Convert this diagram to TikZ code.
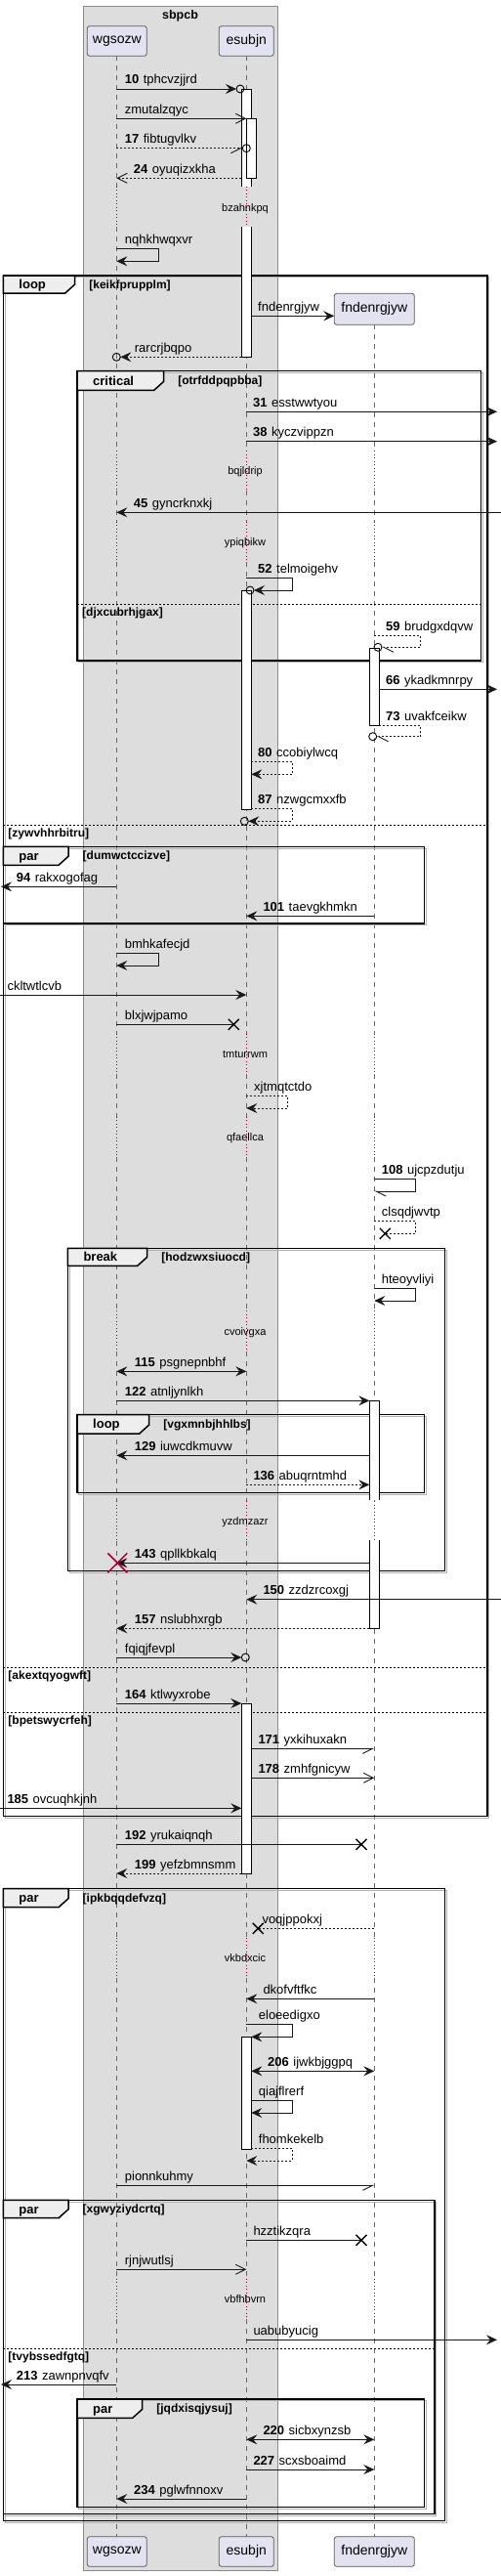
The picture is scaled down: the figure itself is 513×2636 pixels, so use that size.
\documentclass[tikz,border=0pt]{standalone}
\usepackage{fontspec}
\setmainfont{Liberation Sans}
\usetikzlibrary{arrows.meta}
\definecolor{grpfill}{RGB}{221,221,221}
\definecolor{partfill}{RGB}{226,226,240}
\definecolor{tabfill}{RGB}{238,238,238}
\definecolor{delayred}{RGB}{168,0,54}
\newcounter{lc}
\tikzset{
 tipfill/.tip={Stealth[length=11pt,width=10pt,inset=4pt]},
 tipopen/.tip={Straight Barb[length=10pt,width=10pt]},
 tiphr/.tip={Straight Barb[length=10pt,width=10pt,right]},
 tiphl/.tip={Straight Barb[length=10pt,width=10pt,left]},
 msg/.style={line width=0.9pt, draw=black!90},
 dmsg/.style={msg, dash pattern=on 2pt off 2pt},
 life/.style={draw=black!60, line width=0.7pt, dash pattern=on 5pt off 5pt},
 delayline/.style={draw=delayred, line width=0.8pt, dash pattern=on 1pt off 2.5pt},
 act/.style={draw=black, fill=white, line width=0.8pt},
 part/.style={draw=black!65, fill=partfill, rounded corners=2.5pt, line width=0.8pt, font=\fontsize{14}{16}\selectfont, inner sep=0pt},
 msgtxt/.style={font=\fontsize{13}{15}\selectfont, inner sep=0pt, anchor=base west},
 delaytxt/.style={font=\fontsize{11}{13}\selectfont, inner sep=0pt, anchor=base},
 tabtxt/.style={font=\fontsize{13}{15}\selectfont\bfseries, inner sep=0pt, anchor=base west},
 condtxt/.style={font=\fontsize{12}{14}\selectfont\bfseries, inner sep=0pt, anchor=base west},
 frameline/.style={draw=black, line width=1.5pt},
 frameshadow/.style={draw=black!30, line width=1pt},
 divline/.style={draw=black, line width=0.9pt, dash pattern=on 2pt off 2pt},
}
\newcommand\ml[3]{\stepcounter{lc}\node[msgtxt] (lab\arabic{lc}) at (#1,{#2-5}) {#3};}
\newcommand\sn[1]{\textbf{#1}\hspace{4.5pt}}
\newcommand\ecirc[2]{\draw[line width=0.9pt] (#1,#2) circle (4);}
\newcommand\xmk[2]{\draw[line width=1.4pt] ({#1-5.5},{#2-5.5}) -- ({#1+5.5},{#2+5.5}) ({#1-5.5},{#2+5.5}) -- ({#1+5.5},{#2-5.5});}
\newcommand\dly[2]{\stepcounter{lc}\node[delaytxt] (dl\arabic{lc}) at (251,{#1+4}) {#2};}
\newcommand\frm[8]{%
 \draw[frameshadow] ({#1+1.8},{#2+1.8}) rectangle ({#3+1.8},{#4+1.8});
 \draw[frameline] (#1,#2) rectangle (#3,#4);
 \filldraw[fill=tabfill, frameline] (#1,#2) -- (#5,#2) -- (#5,{#6-9}) -- ({#5-10},#6) -- (#1,#6) -- cycle;
 \stepcounter{lc}\node[tabtxt] (tab\arabic{lc}) at ({#1+16},{(#2+#6)/2+4.5}) {#7};
 \node[condtxt] (cond\arabic{lc}) at ({#5+14.5},{(#2+#6)/2+4}) {[#8]};}
\newcommand\divd[4]{%
 \draw[divline] (#1,#3) -- (#2,#3);
 \stepcounter{lc}\node[condtxt] (div\arabic{lc}) at ({#1+5},{#3+12.3}) {[#4]};}
\begin{document}
\begin{tikzpicture}[x=1pt,y=-1pt]
\useasboundingbox (0,0) rectangle (513,2636);
\fill[white] (0,0) rectangle (513,2636);
% group box
\draw[fill=grpfill, draw=black!45, line width=0.9pt] (85.7,6) rectangle (284.3,2630.7);
\node[font=\fontsize{12.5}{14}\selectfont\bfseries, anchor=base, inner sep=0pt] (grpt) at (184.5,19.5) {sbpcb};
% lifelines
\foreach \x in {119.3,252.3}{
 \foreach \a/\b in {57.3/190.7, 232/461, 502.4/533.6, 575/1057.6, 1099/1142.6, 1184/1341.3, 1382.7/1536, 1577.4/1982.6, 2024/2331.6, 2373/2595.7} \draw[life] (\x,\a) -- (\x,\b);
 \foreach \a/\b in {190.7/232, 461/502.4, 533.6/575, 1057.6/1099, 1142.6/1184, 1341.3/1382.7, 1536/1577.4, 1982.6/2024, 2331.6/2373} \draw[delayline] (\x,\a) -- (\x,\b);
}
\foreach \a/\b in {332.3/461, 502.4/533.6, 575/1057.6, 1099/1142.6, 1184/1341.3, 1382.7/1536, 1577.4/1982.6, 2024/2331.6, 2373/2595.7} \draw[life] (383.3,\a) -- (383.3,\b);
\foreach \a/\b in {461/502.4, 533.6/575, 1057.6/1099, 1142.6/1184, 1341.3/1382.7, 1536/1577.4, 1982.6/2024, 2331.6/2373} \draw[delayline] (383.3,\a) -- (383.3,\b);
% frames
\frm{3.3}{282}{499}{1858.7}{76.7}{300}{loop}{keikfprupplm}
\frm{79}{379.7}{492.7}{676}{167.7}{399.3}{critical}{otrfddpqpbba}
\divd{79}{492.7}{618.3}{djxcubrhjgax}
\divd{3.3}{499}{844}{zywvhhrbitru}
\frm{3.3}{866.3}{434.7}{945}{70}{885.3}{par}{dumwctccizve}
\frm{69.3}{1277.3}{455.3}{1607.3}{150.7}{1295.3}{break}{hodzwxsiuocd}
\frm{79}{1447.7}{434.7}{1527.3}{152.7}{1467}{loop}{vgxmnbjhhlbs}
\divd{3.3}{499}{1706}{akextqyogwft}
\divd{3.3}{499}{1752.3}{bpetswycrfeh}
\frm{3.3}{1932.7}{455.3}{2579.3}{70}{1951.7}{par}{ipkbqqdefvzq}
\frm{3.3}{2251.3}{445}{2572.7}{70}{2269.7}{par}{xgwyziydcrtq}
\divd{3.3}{445}{2403}{tvybssedfgtq}
\frm{79}{2455}{434.7}{2565.3}{145.7}{2474.3}{par}{jqdxisqjysuj}
% activations
\fill[white] (247.3,91) rectangle (257.3,190.7);
\draw[line width=0.8pt] (247.3,190.7) -- (247.3,91) -- (257.3,91) -- (257.3,190.7);
\fill[white] (247.3,232) rectangle (257.3,365.3);
\draw[line width=0.8pt] (247.3,232) -- (247.3,365.3) -- (257.3,365.3) -- (257.3,232);
\draw[act] (252.3,121.3) rectangle (262.3,182.3);
\draw[act] (247.3,604) rectangle (257.3,828.3);
\draw[act] (378.3,663.3) rectangle (388.3,742);
\fill[white] (378.3,1433.3) rectangle (388.3,1534.7);
\draw[line width=0.8pt] (378.3,1534.7) -- (378.3,1433.3) -- (388.3,1433.3) -- (388.3,1534.7);
\fill[white] (378.3,1576) rectangle (388.3,1666.3);
\draw[line width=0.8pt] (378.3,1576) -- (378.3,1666.3) -- (388.3,1666.3) -- (388.3,1576);
\draw[act] (247.3,1743) rectangle (257.3,1917);
\draw[act] (247.3,2084.3) rectangle (257.3,2199.3);
% messages
\draw[msg,-{tipfill}] (119.3,91) -- (242,91); \ecirc{246}{91}
\ml{127.7}{91}{\sn{10}tphcvzjjrd}
\draw[msg,-{tipopen}] (119.3,121.3) -- (252.3,121.3);
\ml{127.7}{121.3}{zmutalzqyc}
\draw[dmsg,-{tiphr}] (119.3,151.7) -- (248.3,151.7); \ecirc{252.3}{151.7}
\ml{127.7}{151.7}{\sn{17}fibtugvlkv}
\draw[dmsg,-{tipopen}] (247.3,182.3) -- (119.3,182.3);
\ml{136.7}{182.3}{\sn{24}oyuqizxkha}
\dly{212}{bzahnkpq}
\draw[msg,-{tipfill}] (119.3,254.3) -- (162.3,254.3) -- (162.3,267.3) -- (119.3,267.3);
\ml{127.7}{254.3}{nqhkhwqxvr}
\draw[msg,-{tipfill}] (257.3,323.3) -- (342.3,323.3);
\ml{264}{323.3}{fndenrgjyw}
\draw[dmsg,-{tipfill}] (247.3,365.3) -- (123.3,365.3); \ecirc{119.3}{365.3}
\ml{137.7}{365.3}{rarcrjbqpo}
\draw[msg,-{tipfill}] (252.3,421.3) -- (509,421.3);
\ml{259}{421.3}{\sn{31}esstwwtyou}
\draw[msg,-{tipfill}] (252.3,451.7) -- (509,451.7);
\ml{259}{451.7}{\sn{38}kyczvippzn}
\dly{481.7}{bqjldrip}
\draw[msg,-{tipfill}] (513,524.3) -- (119.3,524.3);
\ml{136.7}{524.3}{\sn{45}gyncrknxkj}
\dly{554.3}{ypiqbikw}
\draw[msg,-{tipfill}] (252.3,591.7) -- (299.3,591.7) -- (299.3,604) -- (260,604); \ecirc{256}{604}
\ml{264}{591.7}{\sn{52}telmoigehv}
\draw[dmsg,-{tiphl}] (383.3,650.3) -- (430.7,650.3) -- (430.7,662.3) -- (391,662.3); \ecirc{387}{662.3}
\ml{395}{650.3}{\sn{59}brudgxdqvw}
\draw[msg,-{tipfill}] (388.3,705.3) -- (509,705.3);
\ml{395}{705.3}{\sn{66}ykadkmnrpy}
\draw[dmsg,-{tiphl}] (388.3,742) -- (430.7,742) -- (430.7,753.7) -- (385.7,753.7); \ecirc{381.7}{753.7}
\ml{395}{742}{\sn{73}uvakfceikw}
\draw[dmsg,-{tipfill}] (257.3,779) -- (299.3,779) -- (299.3,792.3) -- (257.3,792.3);
\ml{264}{779}{\sn{80}ccobiylwcq}
\draw[dmsg,-{tipfill}] (257.3,827.3) -- (299.3,827.3) -- (299.3,840.3) -- (254.3,840.3); \ecirc{250.3}{840.3}
\ml{264}{827.3}{\sn{87}nzwgcmxxfb}
\draw[msg,-{tipfill}] (119.3,907.3) -- (1,907.3);
\ml{16.7}{907.3}{\sn{94}rakxogofag}
\draw[msg,-{tipfill}] (383.3,937.3) -- (252.3,937.3);
\ml{269.3}{937.3}{\sn{101}taevgkhmkn}
\draw[msg,-{tipfill}] (119.3,975.7) -- (162.3,975.7) -- (162.3,988) -- (119.3,988);
\ml{127.7}{975.7}{bmhkafecjd}
\draw[msg,-{tipfill}] (0,1018) -- (252.3,1018);
\ml{7.3}{1018}{ckltwtlcvb}
\draw[msg] (119.3,1048.3) -- (239.3,1048.3); \xmk{239.3}{1048.3}
\ml{127.7}{1048.3}{blxjwjpamo}
\dly{1078.3}{tmturrwm}
\draw[dmsg,-{tipfill}] (252.3,1121.3) -- (294.7,1121.3) -- (294.7,1134) -- (252.3,1134);
\ml{260}{1121.3}{xjtmqtctdo}
\dly{1163.3}{qfaellca}
\draw[msg,-{tiphl}] (383.3,1206.7) -- (425.7,1206.7) -- (425.7,1219) -- (383.3,1219);
\ml{390.7}{1206.7}{\sn{108}ujcpzdutju}
\draw[dmsg] (383.3,1249.7) -- (425.7,1249.7) -- (425.7,1262.3) -- (394.3,1262.3); \xmk{394.3}{1262.3}
\ml{390.7}{1249.7}{clsqdjwvtp}
\draw[msg,-{tipfill}] (383.3,1318.7) -- (425.7,1318.7) -- (425.7,1331) -- (383.3,1331);
\ml{390.7}{1318.7}{hteoyvliyi}
\dly{1362}{cvoivgxa}
\draw[msg,{tipfill}-{tipfill}] (119.3,1403.3) -- (252.3,1403.3);
\ml{137.7}{1403.3}{\sn{115}psgnepnbhf}
\draw[msg,-{tipfill}] (119.3,1433.3) -- (378.3,1433.3);
\ml{127.7}{1433.3}{\sn{122}atnljynlkh}
\draw[msg,-{tipfill}] (378.3,1489.3) -- (119.3,1489.3);
\ml{137.7}{1489.3}{\sn{129}iuwcdkmuvw}
\draw[dmsg,-{tipfill}] (252.3,1519.3) -- (378.3,1519.3);
\ml{259.3}{1519.3}{\sn{136}abuqrntmhd}
\dly{1556.7}{yzdmzazr}
\draw[msg,-{tipfill}] (378.3,1599.3) -- (119.3,1599.3);
\draw[delayred, line width=1.5pt] (110.3,1589.3) -- (130.3,1609.3) (110.3,1609.3) -- (130.3,1589.3);
\ml{137.7}{1599.3}{\sn{143}qpllkbkalq}
\draw[msg,-{tipfill}] (513,1636.7) -- (252.3,1636.7);
\ml{269.3}{1636.7}{\sn{150}zzdzrcoxgj}
\draw[dmsg,-{tipfill}] (378.3,1666.3) -- (119.3,1666.3);
\ml{137.7}{1666.3}{\sn{157}nslubhxrgb}
\draw[msg,-{tipfill}] (119.3,1696) -- (247.3,1696); \ecirc{251.3}{1696}
\ml{127.7}{1696}{fqiqjfevpl}
\draw[msg,-{tipfill}] (119.3,1743) -- (247.3,1743);
\ml{127.7}{1743}{\sn{164}ktlwyxrobe}
\draw[msg,-{tiphr}] (257.3,1789.3) -- (383.3,1789.3);
\ml{264.3}{1789.3}{\sn{171}yxkihuxakn}
\draw[msg,-{tipopen}] (257.3,1819.3) -- (383.3,1819.3);
\ml{264.3}{1819.3}{\sn{178}zmhfgnicyw}
\draw[msg,-{tipfill}] (0,1850.3) -- (247.3,1850.3);
\ml{7.3}{1850.3}{\sn{185}ovcuqhkjnh}
\draw[msg] (119.3,1887.3) -- (370,1887.3); \xmk{370}{1887.3}
\ml{127.7}{1887.3}{\sn{192}yrukaiqnqh}
\draw[dmsg,-{tipfill}] (247.3,1917) -- (119.3,1917);
\ml{137.7}{1917}{\sn{199}yefzbmnsmm}
\draw[dmsg] (383.3,1973.3) -- (264.3,1973.3); \xmk{264.3}{1973.3}
\ml{268.3}{1973.3}{voqjppokxj}
\dly{2003.3}{vkbdxcic}
\draw[msg,-{tipfill}] (383.3,2045.3) -- (252.3,2045.3);
\ml{269.3}{2045.3}{dkofvftfkc}
\draw[msg,-{tipfill}] (252.3,2071.3) -- (299.3,2071.3) -- (299.3,2084.3) -- (257.3,2084.3);
\ml{264.7}{2071.3}{eloeedigxo}
\draw[msg,{tipfill}-{tipfill}] (257.3,2119.3) -- (383.3,2119.3);
\ml{274}{2119.3}{\sn{206}ijwkbjggpq}
\draw[msg,-{tipfill}] (257.3,2149.3) -- (299.3,2149.3) -- (299.3,2162) -- (257.3,2162);
\ml{264.7}{2149.3}{qiajflrerf}
\draw[dmsg,-{tipfill}] (257.3,2198.3) -- (299.3,2198.3) -- (299.3,2211) -- (252.3,2211);
\ml{264.7}{2198.3}{fhomkekelb}
\draw[msg,-{tiphr}] (119.3,2236.3) -- (383.3,2236.3);
\ml{127.7}{2236.3}{pionnkuhmy}
\draw[msg] (252.3,2292.3) -- (370,2292.3); \xmk{370}{2292.3}
\ml{259.3}{2292.3}{hzztikzqra}
\draw[msg,-{tipopen}] (119.3,2322.3) -- (252.3,2322.3);
\ml{127.7}{2322.3}{rjnjwutlsj}
\dly{2352.3}{vbfhbvrn}
\draw[msg,-{tipfill}] (252.3,2394.3) -- (509,2394.3);
\ml{259.3}{2394.3}{uabubyucig}
\draw[msg,-{tipfill}] (119.3,2440) -- (1,2440);
\ml{16.7}{2440}{\sn{213}zawnpnvqfv}
\draw[msg,{tipfill}-{tipfill}] (252.3,2496.3) -- (383.3,2496.3);
\ml{269.3}{2496.3}{\sn{220}sicbxynzsb}
\draw[msg,-{tipfill}] (252.3,2527) -- (383.3,2527);
\ml{259.3}{2527}{\sn{227}scxsboaimd}
\draw[msg,-{tipfill}] (252.3,2557) -- (119.3,2557);
\ml{137}{2557}{\sn{234}pglwfnnoxv}
% participants
\node[part, minimum width=61pt, minimum height=30.6pt] (wgT) at (119.8,42) {wgsozw};
\node[part, minimum width=56pt, minimum height=30.6pt] (esT) at (252.3,42) {esubjn};
\node[part, minimum width=82pt, minimum height=32pt] (fnT) at (383.3,316.3) {fndenrgjyw};
\node[part, minimum width=61pt, minimum height=30.6pt] (wgB) at (119.8,2611) {wgsozw};
\node[part, minimum width=56pt, minimum height=30.6pt] (esB) at (252.3,2611) {esubjn};
\node[part, minimum width=82pt, minimum height=30.6pt] (fnB) at (383.3,2611) {fndenrgjyw};
\end{tikzpicture}
\end{document}
